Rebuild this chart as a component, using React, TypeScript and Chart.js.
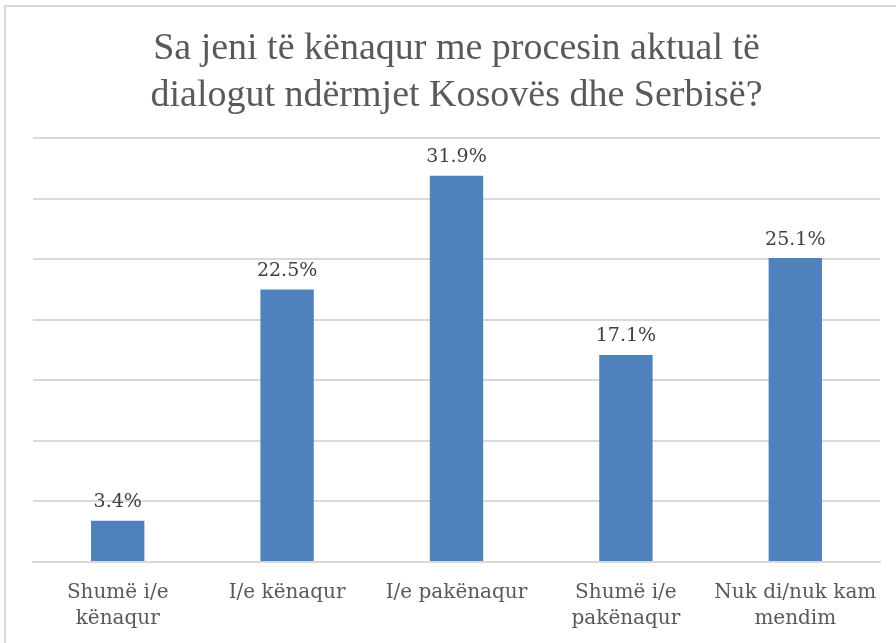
import React, { useEffect, useRef } from "react";
import { Chart, registerables } from "chart.js";

Chart.register(...registerables);

const titleLines = ["Sa jeni të kënaqur me procesin aktual të", "dialogut ndërmjet Kosovës dhe Serbisë?"];
const categories: (string | string[])[] = [
  ["Shumë i/e", "kënaqur"],
  "I/e kënaqur",
  "I/e pakënaqur",
  ["Shumë i/e", "pakënaqur"],
  ["Nuk di/nuk kam", "mendim"],
];
const values = [3.4, 22.5, 31.9, 17.1, 25.1];
const valueLabels = ["3.4%", "22.5%", "31.9%", "17.1%", "25.1%"];
const yMax = 35;
const yStep = 5;

const labelPlugin = {
  id: "valueLabels",
  afterDatasetsDraw(chart: any) {
    const ctx = chart.ctx;
    const meta = chart.getDatasetMeta(0);
    ctx.save();
    ctx.font = "19px 'DejaVu Serif'";
    ctx.fillStyle = "#404040";
    ctx.textAlign = "center";
    ctx.textBaseline = "bottom";
    meta.data.forEach((bar: any, i: number) => {
      ctx.fillText(valueLabels[i], bar.x, bar.y - 9);
    });
    ctx.restore();
  },
};

export default function App() {
  const ref = useRef<HTMLCanvasElement>(null);
  useEffect(() => {
    if (!ref.current) return;
    const chart = new Chart(ref.current, {
      type: "bar",
      data: {
        labels: categories,
        datasets: [
          {
            data: values,
            backgroundColor: "#4F81BD",
            barPercentage: 0.315,
            categoryPercentage: 1,
          },
        ],
      },
      options: {
        animation: false,
        responsive: false,
        maintainAspectRatio: false,
        layout: { padding: { left: 33, right: 16, top: 25, bottom: 1 } },
        plugins: {
          legend: { display: false },
          tooltip: { enabled: false },
          title: {
            display: true,
            text: titleLines,
            color: "#595959",
            font: { family: "'Liberation Serif'", size: 38, weight: "normal", lineHeight: 1.24 },
            padding: { top: 0, bottom: 19 },
          },
        },
        scales: {
          x: {
            grid: { display: false },
            border: { display: true, color: "#D9D9D9", width: 2 },
            ticks: {
              color: "#595959",
              font: { family: "'DejaVu Serif'", size: 20, lineHeight: 1.3 },
              padding: 10,
              maxRotation: 0,
              autoSkip: false,
            },
          },
          y: {
            min: 0,
            max: yMax,
            ticks: { display: false, stepSize: yStep },
            grid: { color: "#D9D9D9", lineWidth: 2, drawTicks: false },
            border: { display: false },
          },
        },
      },
      plugins: [labelPlugin],
    });
    return () => chart.destroy();
  }, []);
  return (
    <div style={{ position: "fixed", left: 0, top: 0, width: 896, height: 643, background: "#fff" }}>
      <div
        style={{
          position: "absolute",
          left: 4,
          top: 5,
          width: 900,
          height: 700,
          borderLeft: "2px solid #D9D9D9",
          borderTop: "2px solid #D9D9D9",
        }}
      />
      <canvas ref={ref} width={896} height={643} style={{ position: "absolute", left: 0, top: 0 }} />
    </div>
  );
}
